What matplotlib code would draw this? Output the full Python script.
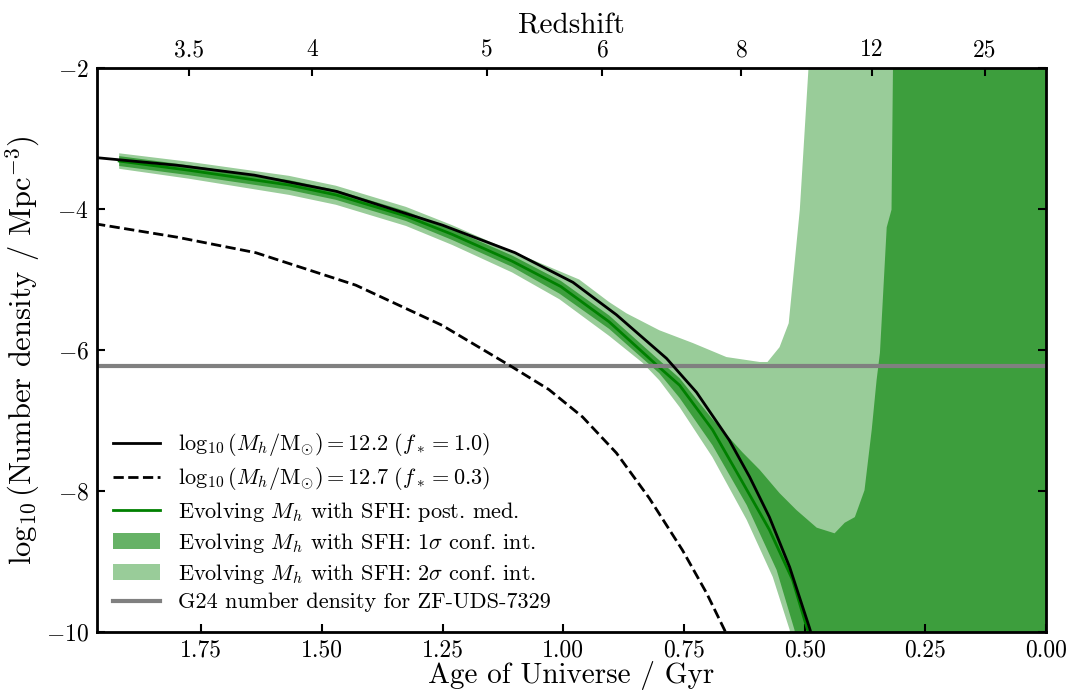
import matplotlib
matplotlib.use("Agg")
import matplotlib.pyplot as plt
from matplotlib.patches import Patch
from matplotlib.lines import Line2D

plt.rcParams["font.family"] = "serif"
plt.rcParams["font.serif"] = ["cmr10"]
plt.rcParams["mathtext.fontset"] = "cm"
plt.rcParams["axes.formatter.use_mathtext"] = True

# fixed halo mass tracks (age in Gyr, log10 number density)
solid_age = [1.97, 1.80, 1.64, 1.47, 1.25, 1.10, 0.98, 0.89, 0.786, 0.724, 0.656, 0.614, 0.573, 0.531, 0.49, 0.47]
solid_val = [-3.27, -3.38, -3.52, -3.75, -4.23, -4.62, -5.04, -5.50, -6.12, -6.60, -7.28, -7.80, -8.37, -9.08, -9.94, -10.4]

dashed_age = [1.97, 1.80, 1.637, 1.43, 1.251, 1.106, 1.03, 0.96, 0.89, 0.822, 0.753, 0.703, 0.666, 0.64]
dashed_val = [-4.21, -4.40, -4.62, -5.08, -5.65, -6.24, -6.56, -6.95, -7.46, -8.10, -8.84, -9.45, -9.97, -10.4]

# evolving halo mass: posterior median
med_age = [1.92, 1.776, 1.568, 1.471, 1.326, 1.23, 1.106, 1.005, 0.905, 0.807, 0.759, 0.691, 0.635, 0.573, 0.525, 0.494, 0.48]
med_val = [-3.32, -3.45, -3.66, -3.80, -4.10, -4.36, -4.74, -5.10, -5.60, -6.21, -6.50, -7.13, -7.80, -8.55, -9.26, -9.97, -10.3]

# 1 sigma interval
s1_up_age = [1.92, 1.776, 1.568, 1.471, 1.326, 1.23, 1.106, 1.005, 0.905, 0.807, 0.759, 0.691, 0.662, 0.629, 0.593,
             0.552, 0.517, 0.475, 0.438, 0.417, 0.396, 0.376, 0.361, 0.351, 0.344, 0.330, 0.320, 0.317, 0.31, 0.0]
s1_up_val = [-3.25, -3.38, -3.59, -3.73, -4.03, -4.29, -4.66, -5.02, -5.51, -6.11, -6.40, -6.98, -7.20, -7.45, -7.70,
             -8.03, -8.27, -8.52, -8.60, -8.45, -8.37, -7.99, -7.13, -6.43, -6.04, -4.26, -4.01, -2.0, -1.5, -1.5]
s1_lo_age = [1.92, 1.776, 1.568, 1.471, 1.326, 1.23, 1.106, 1.008, 0.905, 0.801, 0.759, 0.691, 0.620, 0.558, 0.521, 0.51, 0.0]
s1_lo_val = [-3.39, -3.52, -3.73, -3.87, -4.17, -4.44, -4.82, -5.20, -5.70, -6.33, -6.68, -7.35, -8.20, -9.12, -9.97, -10.5, -10.5]

# 2 sigma interval
s2_up_age = [1.92, 1.776, 1.568, 1.471, 1.326, 1.23, 1.106, 0.967, 0.905, 0.869, 0.801, 0.732, 0.662, 0.593,
             0.577, 0.552, 0.533, 0.510, 0.492, 0.48, 0.0]
s2_up_val = [-3.21, -3.33, -3.53, -3.67, -3.97, -4.23, -4.60, -5.00, -5.32, -5.48, -5.72, -5.90, -6.10, -6.17,
             -6.17, -5.96, -5.62, -4.01, -2.0, -1.5, -1.5]
s2_lo_age = [1.92, 1.776, 1.568, 1.471, 1.326, 1.23, 1.106, 1.008, 0.905, 0.836, 0.801, 0.759, 0.691, 0.620, 0.566, 0.531, 0.52, 0.0]
s2_lo_val = [-3.43, -3.57, -3.80, -3.94, -4.24, -4.51, -4.90, -5.28, -5.80, -6.18, -6.43, -6.81, -7.52, -8.41, -9.22, -9.97, -10.5, -10.5]

g24_density = -6.23

# redshift ticks on top axis and their ages
z_labels = ["3.5", "4", "5", "6", "8", "12", "25"]
z_ages = [1.776, 1.521, 1.158, 0.919, 0.631, 0.361, 0.127]

fig = plt.figure(figsize=(10.68, 6.93), dpi=100)
ax = fig.add_axes([0.0908, 0.088, 0.8886, 0.8139])

ax.fill(s2_up_age + s2_lo_age[::-1], s2_up_val + s2_lo_val[::-1], color="green", alpha=0.4, lw=0)
ax.fill(s1_up_age + s1_lo_age[::-1], s1_up_val + s1_lo_val[::-1], color="green", alpha=0.6, lw=0)
ax.plot(med_age, med_val, color="green", lw=2)
ax.axhline(g24_density, color="grey", lw=3)
ax.plot(solid_age, solid_val, color="black", lw=2)
ax.plot(dashed_age, dashed_val, color="black", lw=2, ls="--")

ax.set_xlim(1.966, 0.0)
ax.set_ylim(-10, -2)
ax.set_xticks([1.75, 1.5, 1.25, 1.0, 0.75, 0.5, 0.25, 0.0])
ax.set_xticklabels(["1.75", "1.50", "1.25", "1.00", "0.75", "0.50", "0.25", "0.00"])
ax.set_yticks([-10, -8, -6, -4, -2])
ax.tick_params(direction="in", length=6, width=1.5, labelsize=17, right=True, pad=6)
ax.tick_params(axis="x", pad=5)
for s in ax.spines.values():
    s.set_linewidth(2)
ax.set_xlabel("Age of Universe / Gyr", fontsize=21, labelpad=0)
ax.set_ylabel(r"$\log_{10}$(Number density / Mpc$^{-3}$)", fontsize=22, labelpad=3)

ax2 = ax.twiny()
ax2.set_xlim(ax.get_xlim())
ax2.set_xticks(z_ages)
ax2.set_xticklabels(z_labels)
ax2.tick_params(direction="in", length=6, width=1.5, labelsize=17, pad=5)
ax2.set_xlabel("Redshift", fontsize=21, labelpad=4)

handles = [
    Line2D([], [], color="black", lw=2),
    Line2D([], [], color="black", lw=2, ls="--"),
    Line2D([], [], color="green", lw=2),
    Patch(facecolor="green", alpha=0.6, lw=0),
    Patch(facecolor="green", alpha=0.4, lw=0),
    Line2D([], [], color="grey", lw=3),
]
labels = [
    r"$\log_{10}(M_h/\mathrm{M}_{\odot}) = 12.2\ (f_* = 1.0)$",
    r"$\log_{10}(M_h/\mathrm{M}_{\odot}) = 12.7\ (f_* = 0.3)$",
    r"Evolving $M_h$ with SFH: post. med.",
    r"Evolving $M_h$ with SFH: 1$\sigma$ conf. int.",
    r"Evolving $M_h$ with SFH: 2$\sigma$ conf. int.",
    "G24 number density for ZF-UDS-7329",
]
ax.legend(handles, labels, loc="lower left", frameon=False, fontsize=16,
          handlelength=2.1, labelspacing=0.32, borderaxespad=0,
          bbox_to_anchor=(0.008, 0.019))

fig.savefig("out.png", dpi=100)
